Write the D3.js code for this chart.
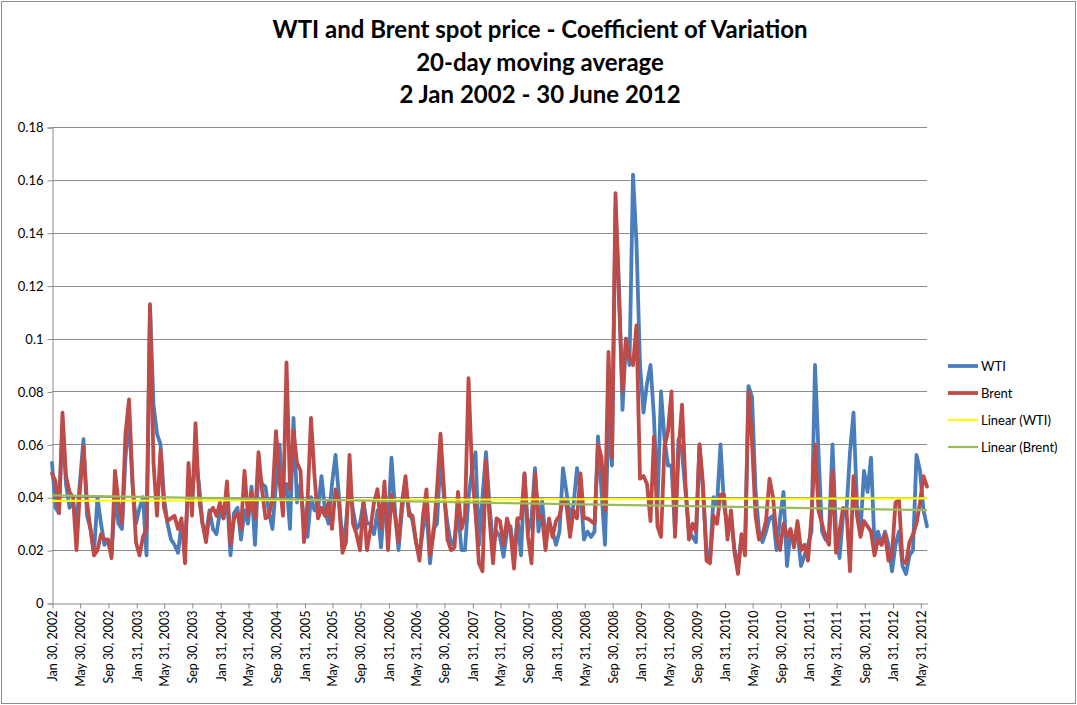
<!DOCTYPE html>
<html>
<head>
<meta charset="utf-8">
<script src="https://cdn.jsdelivr.net/npm/d3@7/dist/d3.min.js"></script>
<style>
  body { margin: 0; background: #fff; }
  #chart { width: 1077px; height: 705px; }
  text { font-family: Lato, "Open Sans", "Liberation Sans", sans-serif; fill: #000; }
</style>
</head>
<body>
<div id="chart"></div>
<script>
// first and last 20-day average, values every half month in between
var startDate = "2002-01-30";
var endDate = "2012-06-29";

var tickLabels = ["Jan 30, 2002", "May 30, 2002", "Sep 30, 2002",
  "Jan 31, 2003", "May 31, 2003", "Sep 30, 2003", "Jan 31, 2004", "May 31, 2004", "Sep 30, 2004",
  "Jan 31, 2005", "May 31, 2005", "Sep 30, 2005", "Jan 31, 2006", "May 31, 2006", "Sep 30, 2006",
  "Jan 31, 2007", "May 31, 2007", "Sep 30, 2007", "Jan 31, 2008", "May 31, 2008", "Sep 30, 2008",
  "Jan 31, 2009", "May 31, 2009", "Sep 30, 2009", "Jan 31, 2010", "May 31, 2010", "Sep 30, 2010",
  "Jan 31, 2011", "May 31, 2011", "Sep 30, 2011", "Jan 31, 2012", "May 31, 2012"];

var yTicks = [0, 0.02, 0.04, 0.06, 0.08, 0.1, 0.12, 0.14, 0.16, 0.18];

var wti = [
  0.053,0.036,0.034,0.068,0.045,0.036,0.038,0.030,0.046,0.062,0.033,0.028,0.019,0.040,0.030,0.022,0.024,0.018,0.040,0.030,0.028,0.055,0.070,0.045,
  0.030,0.036,0.040,0.018,0.112,0.075,0.064,0.060,0.040,0.030,0.024,0.022,0.019,0.030,0.022,0.045,0.040,0.055,0.045,0.030,0.026,0.035,0.028,0.026,
  0.035,0.032,0.040,0.018,0.034,0.036,0.024,0.035,0.030,0.044,0.022,0.050,0.045,0.044,0.034,0.028,0.045,0.060,0.040,0.045,0.028,0.070,0.038,0.045,
  0.030,0.025,0.040,0.035,0.035,0.048,0.035,0.030,0.045,0.056,0.040,0.022,0.030,0.045,0.035,0.028,0.030,0.038,0.030,0.030,0.026,0.035,0.021,0.038,
  0.030,0.055,0.035,0.020,0.035,0.045,0.035,0.031,0.023,0.018,0.028,0.035,0.015,0.028,0.030,0.055,0.040,0.030,0.022,0.024,0.035,0.020,0.020,0.040,
  0.050,0.057,0.022,0.040,0.057,0.037,0.022,0.027,0.025,0.0175,0.027,0.029,0.018,0.032,0.018,0.049,0.027,0.032,0.051,0.027,0.039,0.025,0.030,0.027,
  0.022,0.027,0.051,0.042,0.032,0.037,0.051,0.042,0.024,0.027,0.025,0.027,0.063,0.042,0.022,0.070,0.052,0.150,0.120,0.073,0.100,0.090,0.162,0.136,
  0.090,0.072,0.083,0.090,0.070,0.037,0.080,0.062,0.052,0.052,0.027,0.062,0.057,0.042,0.027,0.025,0.023,0.060,0.042,0.020,0.017,0.040,0.037,0.060,
  0.037,0.029,0.032,0.020,0.014,0.025,0.020,0.082,0.078,0.043,0.027,0.023,0.027,0.032,0.033,0.020,0.032,0.042,0.014,0.027,0.023,0.027,0.014,0.018,
  0.022,0.027,0.090,0.057,0.027,0.024,0.027,0.060,0.027,0.017,0.033,0.035,0.057,0.072,0.037,0.027,0.050,0.042,0.055,0.022,0.027,0.022,0.027,0.022,
  0.012,0.022,0.027,0.014,0.011,0.018,0.020,0.056,0.050,0.035,0.029];

var brent = [
  0.049,0.046,0.034,0.072,0.048,0.042,0.040,0.020,0.043,0.059,0.038,0.028,0.018,0.020,0.026,0.024,0.024,0.017,0.050,0.038,0.030,0.064,0.077,0.046,
  0.023,0.018,0.025,0.028,0.113,0.053,0.033,0.058,0.036,0.031,0.032,0.033,0.028,0.032,0.015,0.053,0.033,0.068,0.040,0.030,0.023,0.034,0.036,0.033,
  0.038,0.032,0.046,0.022,0.032,0.034,0.028,0.050,0.033,0.042,0.032,0.057,0.043,0.032,0.033,0.040,0.065,0.046,0.033,0.091,0.043,0.065,0.053,0.050,
  0.023,0.038,0.070,0.048,0.032,0.036,0.033,0.038,0.028,0.043,0.038,0.019,0.023,0.056,0.030,0.026,0.020,0.038,0.020,0.028,0.038,0.043,0.028,0.046,
  0.020,0.041,0.033,0.023,0.038,0.048,0.033,0.033,0.023,0.016,0.033,0.043,0.018,0.026,0.043,0.064,0.043,0.024,0.020,0.021,0.042,0.028,0.033,0.085,
  0.050,0.034,0.015,0.012,0.054,0.032,0.015,0.032,0.031,0.022,0.032,0.027,0.013,0.032,0.032,0.049,0.025,0.015,0.049,0.032,0.033,0.020,0.032,0.025,
  0.031,0.033,0.039,0.037,0.025,0.035,0.032,0.049,0.032,0.032,0.031,0.030,0.060,0.055,0.035,0.095,0.055,0.155,0.115,0.080,0.100,0.093,0.090,0.105,
  0.047,0.048,0.045,0.031,0.063,0.029,0.025,0.059,0.065,0.080,0.025,0.057,0.075,0.045,0.024,0.030,0.027,0.060,0.045,0.016,0.015,0.033,0.030,0.041,
  0.041,0.024,0.035,0.019,0.011,0.026,0.018,0.080,0.061,0.033,0.024,0.026,0.031,0.047,0.040,0.025,0.020,0.030,0.025,0.028,0.021,0.031,0.020,0.022,
  0.016,0.033,0.060,0.035,0.030,0.025,0.022,0.050,0.019,0.027,0.036,0.035,0.012,0.048,0.033,0.025,0.031,0.029,0.027,0.018,0.024,0.022,0.026,0.016,
  0.018,0.038,0.039,0.016,0.015,0.023,0.026,0.030,0.038,0.048,0.044];

var titleLines = ["WTI and Brent spot price - Coefficient of Variation", "20-day moving average", "2 Jan 2002 - 30 June 2012"];
var legendNames = ["WTI", "Brent", "Linear (WTI)", "Linear (Brent)"];
var colors = ["#4a7ebb", "#be4b48", "#ffff00", "#9bbb59"];

function cvChart(id) {

     var width = 1077, height = 705;
     var plot = {left: 52, right: 927, top: 127, bottom: 603};

     var parseIso = d3.timeParse("%Y-%m-%d");
     var parseTick = d3.timeParse("%b %d, %Y");
     var t0 = parseIso(startDate), t1 = parseIso(endDate);

     var svg = d3.select(id).append("svg")
                 .attr("width", width)
                 .attr("height", height);

     svg.append("rect")
        .attr("x", 1.5).attr("y", 1.5)
        .attr("width", width - 3).attr("height", height - 3)
        .attr("fill", "#fff")
        .attr("stroke", "#8c8c8c");

     var x = d3.scaleTime().domain([t0, t1]).range([plot.left, plot.right]);
     var y = d3.scaleLinear().domain([0, 0.18]).range([plot.bottom, plot.top]);

     var step = (t1 - t0) / (wti.length - 1);
     function dateAt(i) { return new Date(+t0 + i * step); }

     // title
     svg.append("g").selectAll("text")
        .data(titleLines)
        .enter().append("text")
        .attr("x", 540)
        .attr("y", function(d, i) { return 38 + i * 32.5; })
        .attr("text-anchor", "middle")
        .style("font-size", "24px")
        .style("font-weight", "bold")
        .text(function(d) { return d; });

     // gridlines
     svg.append("g").selectAll("line")
        .data(yTicks.slice(1))
        .enter().append("line")
        .attr("x1", plot.left).attr("x2", plot.right)
        .attr("y1", function(d) { return Math.round(y(d)) + 0.5; })
        .attr("y2", function(d) { return Math.round(y(d)) + 0.5; })
        .attr("stroke", "#8c8c8c");

     var yAxis = svg.append("g")
                    .attr("transform", "translate(" + (plot.left + 0.5) + ",0.5)")
                    .call(d3.axisLeft(y).tickValues(yTicks).tickSize(5).tickPadding(4)
                          .tickFormat(function(d) { return String(+d.toFixed(2)); }));
     yAxis.select(".domain").attr("stroke", "#8c8c8c");
     yAxis.selectAll(".tick line").attr("stroke", "#8c8c8c");
     yAxis.selectAll("text").style("font-size", "13px").style("font-family", "Lato, 'Open Sans', sans-serif");

     var tickDates = tickLabels.map(function(s) { return parseTick(s); });
     var xAxis = svg.append("g")
                    .attr("transform", "translate(0.5," + (plot.bottom + 0.5) + ")")
                    .call(d3.axisBottom(x).tickValues(tickDates).tickSize(5).tickSizeOuter(0)
                          .tickFormat(function(d, i) { return tickLabels[i]; }));
     xAxis.select(".domain").attr("stroke", "#8c8c8c");
     xAxis.selectAll(".tick line").attr("stroke", "#8c8c8c");
     xAxis.selectAll("text")
          .attr("transform", "rotate(-90)")
          .attr("x", -7).attr("y", 0).attr("dy", "0.35em")
          .attr("text-anchor", "end")
          .style("font-size", "12.5px")
          .style("font-family", "Lato, 'Open Sans', sans-serif");

     var line = d3.line()
                  .x(function(d, i) { return x(dateAt(i)); })
                  .y(function(d) { return y(d); });

     [wti, brent].forEach(function(s, j) {
          svg.append("path")
             .datum(s)
             .attr("d", line)
             .attr("fill", "none")
             .attr("stroke", colors[j])
             .attr("stroke-width", 3.8)
             .attr("stroke-linejoin", "round")
             .attr("stroke-linecap", "round");
     });

     // least squares trend of each series
     [wti, brent].forEach(function(s, j) {
          var n = s.length;
          var mx = d3.mean(s, function(d, i) { return i; });
          var my = d3.mean(s);
          var sxy = d3.sum(s, function(d, i) { return (i - mx) * (d - my); });
          var sxx = d3.sum(s, function(d, i) { return (i - mx) * (i - mx); });
          var b = sxy / sxx, a = my - b * mx;
          svg.append("line")
             .attr("x1", x(dateAt(0))).attr("y1", y(a))
             .attr("x2", x(dateAt(n - 1))).attr("y2", y(a + b * (n - 1)))
             .attr("stroke", colors[j + 2])
             .attr("stroke-width", 2.2);
     });

     var legend = svg.append("g").selectAll("g")
                     .data(legendNames)
                     .enter().append("g")
                     .attr("transform", function(d, i) { return "translate(948," + (366 + i * 27) + ")"; });

     legend.append("line")
           .attr("x1", 0).attr("x2", 30)
           .attr("stroke", function(d, i) { return colors[i]; })
           .attr("stroke-width", function(d, i) { return i < 2 ? 3.8 : 2.2; });

     legend.append("text")
           .attr("x", 33)
           .attr("dy", "0.35em")
           .style("font-size", "13px")
           .text(function(d) { return d; });
}

cvChart("#chart");
</script>
</body>
</html>
